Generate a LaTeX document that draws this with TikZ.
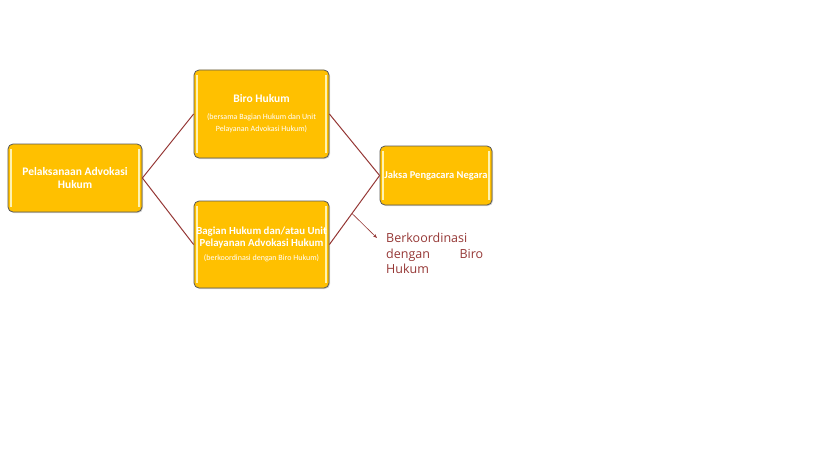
\documentclass[tikz,border=0pt]{standalone}
\usepackage{fontspec}
\setmainfont{Carlito}
\newfontfamily\notefont{Open Sans}
\usetikzlibrary{arrows.meta,shadows}
\definecolor{gold}{HTML}{FFC000}
\definecolor{linkred}{HTML}{953735}
\definecolor{glow}{HTML}{FFF3B0}
\newcommand{\subnote}{\mdseries\fontsize{8}{9}\selectfont}

\begin{document}
\begin{tikzpicture}[x=1pt,y=-1pt,
  box/.style={draw=black!65, line width=0.8pt, fill=gold, rounded corners=5pt, drop shadow={shadow xshift=1pt,shadow yshift=-1pt,opacity=0.35},
    text=white, font=\bfseries\fontsize{11.5}{12.5}\selectfont, align=center, inner sep=1pt,
    path picture={\draw[glow, line width=1.5pt]
      ([xshift=3pt,yshift=-5pt]path picture bounding box.north west) -- ([xshift=3pt,yshift=5pt]path picture bounding box.south west)
      ([xshift=-3pt,yshift=-5pt]path picture bounding box.north east) -- ([xshift=-3pt,yshift=5pt]path picture bounding box.south east);}},
  link/.style={draw=linkred, line width=1pt}]
\useasboundingbox (0,0) rectangle (819,460);
\node[box, minimum width=134pt, minimum height=68pt] (pel) at (75,178) {Pelaksanaan Advokasi\\Hukum};
\node[box, minimum width=135pt, minimum height=88pt] (biro) at (261.5,114)
  {Biro Hukum\\[4pt]\subnote (bersama Bagian Hukum dan Unit\\\subnote Pelayanan Advokasi Hukum)};
\node[box, minimum width=135pt, minimum height=87pt, inner sep=0pt, font=\bfseries\fontsize{10.8}{11.8}\selectfont] (bag) at (261.5,244.5)
  {Bagian Hukum dan/atau Unit\\Pelayanan Advokasi Hukum\\[3pt]\subnote (berkoordinasi dengan Biro Hukum)};
\node[box, minimum width=112pt, minimum height=59pt, inner sep=0pt, font=\bfseries\fontsize{10.5}{12}\selectfont] (jaksa) at (436,175.5) {Jaksa Pengacara Negara};
\draw[link] (pel.east) -- (biro.west);
\draw[link] (pel.east) -- (bag.west);
\draw[link] (biro.east) -- (jaksa.west);
\draw[link] (bag.east) -- (jaksa.west) coordinate[pos=0.45] (via);
\coordinate (tip) at (377,238);
\draw[draw=linkred, line width=0.6pt, -{Stealth[length=4pt,width=3pt]}] (via) -- (tip);
\node[anchor=north west, text=linkred, text width=97pt, align=left, inner sep=0pt,
  font=\notefont\fontsize{12.5}{15.5}\selectfont] (note) at (386,233)
  {Berkoordinasi\\dengan\hfill Biro\\Hukum};
\end{tikzpicture}
\end{document}
